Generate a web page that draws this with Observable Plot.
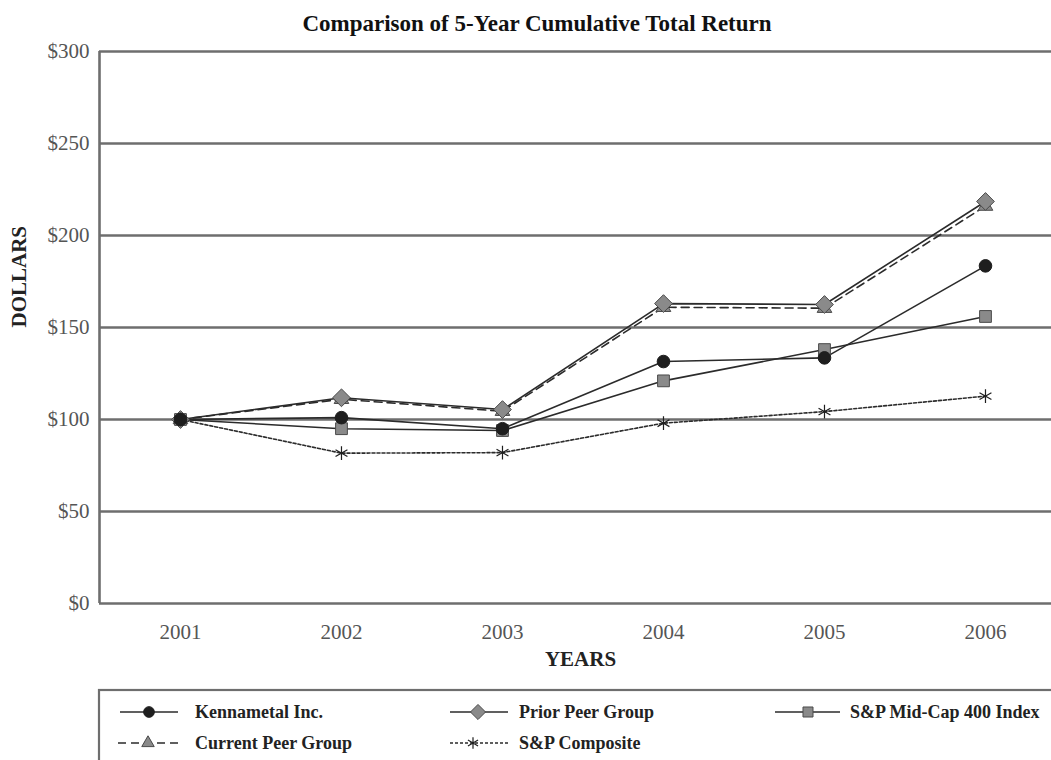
<!DOCTYPE html>
<html>
<head>
<meta charset="utf-8">
<script src="https://cdn.jsdelivr.net/npm/d3@7"></script>
<script src="https://cdn.jsdelivr.net/npm/@observablehq/plot@0.6"></script>
<style>
  body { margin: 0; background: #fff; font-family: "Liberation Serif", "Times New Roman", serif; }
  #wrap { position: relative; width: 1051px; height: 760px; overflow: hidden; background: #fff; }
  #title { position: absolute; left: 0; top: 12px; width: 1074px; text-align: center; z-index: 2;
           font-size: 23px; line-height: 23px; font-weight: bold; color: #111; }
  #chart { position: absolute; left: 0; top: 22px; z-index: 1; }
  #legend { position: absolute; left: 0; top: 684px; }
</style>
</head>
<body>
<div id="wrap">
  <div id="title">Comparison of 5-Year Cumulative Total Return</div>
  <div id="chart"></div>
  <div id="legend"></div>
</div>
<script>
// ---- data ----
const years = [2001, 2002, 2003, 2004, 2005, 2006];
const seriesNames = ["Kennametal Inc.", "Prior Peer Group", "S&P Mid-Cap 400 Index", "Current Peer Group", "S&P Composite"];
const kennametal  = [100, 101,   95,   131.5, 133.5, 183.5];
const priorPeer   = [100, 111.8, 105.4, 163,  162.5, 218.5];
const currentPeer = [100, 111,   104.5, 161,  160.5, 216];
const midCap      = [100, 95,    94,    121,  138,   156];
const composite   = [100, 81.7,  82,    98,   104.3, 112.7];
const yTicks = [0, 50, 100, 150, 200, 250, 300];
const xDomain = [2000.497, 2006.41];

const valuesBySeries = [kennametal, priorPeer, midCap, currentPeer, composite];
const table = [];
seriesNames.forEach((s, i) => years.forEach((y, j) => table.push({series: s, year: y, value: valuesBySeries[i][j]})));
const rows = s => table.filter(d => d.series === s);

const lineColor = "#2b2b2b";
const gray = "#8a8a8a";

const styles = {
  "Kennametal Inc.":       {dash: null,  symbol: "circle",   r: 6.3, fill: "#1e1e1e", stroke: "#1e1e1e"},
  "Prior Peer Group":      {dash: null,  symbol: "diamond2", r: 8,   fill: gray,      stroke: "#4a4a4a"},
  "S&P Mid-Cap 400 Index": {dash: null,  symbol: "square2",  r: 7.5, fill: gray,      stroke: "#4a4a4a"},
  "Current Peer Group":    {dash: "8,5", symbol: "triangle2",r: 7,   fill: gray,      stroke: "#4a4a4a"},
  "S&P Composite":         {dash: "3,2", symbol: "asterisk", r: 6.5, fill: "none",    stroke: "#1e1e1e"}
};

const lineOrder = ["S&P Composite", "S&P Mid-Cap 400 Index", "Kennametal Inc.", "Current Peer Group", "Prior Peer Group"];
const dotOrder = ["Current Peer Group", "Prior Peer Group", "S&P Mid-Cap 400 Index", "Kennametal Inc.", "S&P Composite"];

const marks = [
  Plot.ruleY(yTicks.filter(v => v > 0), {stroke: "#6e6e6e", strokeWidth: 2.6}),
  Plot.ruleY([0], {stroke: "#6e6e6e", strokeWidth: 2.6}),
  Plot.ruleX([xDomain[0]], {stroke: "#6e6e6e", strokeWidth: 2.6}),
  Plot.axisY({ticks: yTicks, tickFormat: d => "$" + d, tickSize: 0, tickPadding: 10,
              fontSize: 21, color: "#555", label: null}),
  Plot.axisX({ticks: years, tickFormat: d => String(d), tickSize: 0, tickPadding: 21,
              fontSize: 21, color: "#555", label: null}),
  Plot.text(["DOLLARS"], {frameAnchor: "left", dx: -80, rotate: -90, fontSize: 21,
              fontWeight: "bold", fill: "#222"}),
  Plot.text(["YEARS"], {frameAnchor: "bottom", dx: 5, dy: 62, fontSize: 21,
              fontWeight: "bold", fill: "#222"})
];
for (const s of lineOrder) {
  const st = styles[s];
  marks.push(Plot.line(rows(s), {x: "year", y: "value", stroke: lineColor, strokeWidth: 1.6,
    strokeDasharray: st.dash || undefined}));
}
for (const s of dotOrder) {
  const st = styles[s];
  marks.push(Plot.dot(rows(s), {x: "year", y: "value", symbol: st.symbol, r: st.r,
    fill: st.fill, stroke: st.stroke, strokeWidth: s === "S&P Composite" ? 1.2 : 1}));
}

const chart = Plot.plot({
  width: 1051, height: 652,
  marginTop: 29, marginBottom: 71, marginLeft: 99, marginRight: 0,
  x: {type: "linear", domain: xDomain, axis: null},
  y: {domain: [0, 300], axis: null},
  style: {fontFamily: "Liberation Serif, Times New Roman, serif", background: "transparent"},
  marks
});
document.getElementById("chart").appendChild(chart);

// ---- legend ----
const legendLayout = [
  {name: "Kennametal Inc.",       x1: 120, x2: 178, sx: 149, tx: 195, y: 28},
  {name: "Prior Peer Group",      x1: 450, x2: 508, sx: 478, tx: 519, y: 28},
  {name: "S&P Mid-Cap 400 Index", x1: 775, x2: 840, sx: 808, tx: 850, y: 28},
  {name: "Current Peer Group",    x1: 118, x2: 180, sx: 148, tx: 195, y: 59},
  {name: "S&P Composite",         x1: 450, x2: 508, sx: 473, tx: 519, y: 59}
];
const lsvg = d3.select("#legend").append("svg").attr("width", 1051).attr("height", 76);
lsvg.append("rect").attr("x", 99).attr("y", 6).attr("width", 1000).attr("height", 100)
  .attr("fill", "none").attr("stroke", "#6e6e6e").attr("stroke-width", 2.2);
const symMap = {circle: d3.symbolCircle, diamond2: d3.symbolDiamond2, square2: d3.symbolSquare2,
                triangle2: d3.symbolTriangle2, asterisk: d3.symbolAsterisk};
for (const it of legendLayout) {
  const st = styles[it.name];
  lsvg.append("line").attr("x1", it.x1).attr("x2", it.x2).attr("y1", it.y).attr("y2", it.y)
    .attr("stroke", lineColor).attr("stroke-width", 1.6)
    .attr("stroke-dasharray", st.dash || null);
  const rr = st.r * 0.85;
  lsvg.append("path").attr("transform", `translate(${it.sx},${it.y})`)
    .attr("d", d3.symbol(symMap[st.symbol], rr * rr * Math.PI)())
    .attr("fill", st.fill).attr("stroke", st.stroke)
    .attr("stroke-width", it.name === "S&P Composite" ? 1.2 : 1);
  lsvg.append("text").attr("x", it.tx).attr("y", it.y).attr("dy", "0.35em")
    .attr("font-family", "Liberation Serif, Times New Roman, serif")
    .attr("font-size", 18).attr("font-weight", "bold").attr("fill", "#222")
    .text(it.name);
}
</script>
</body>
</html>
